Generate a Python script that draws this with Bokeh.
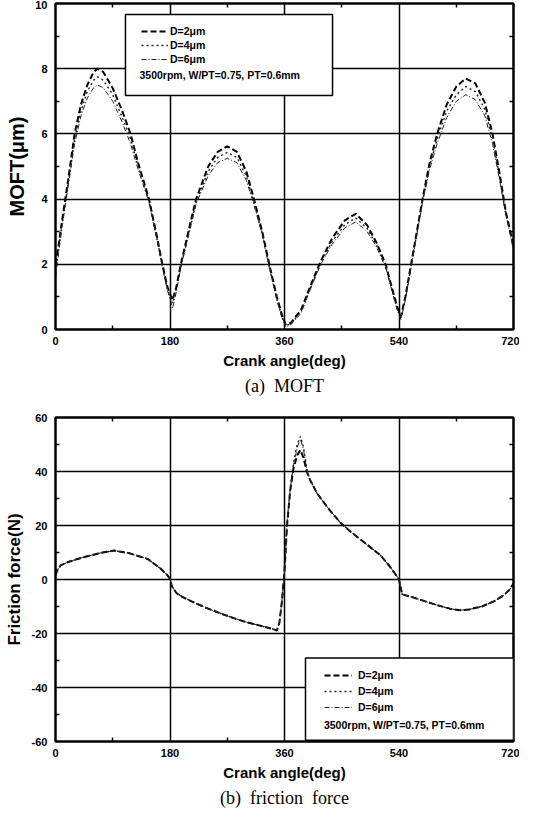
from bokeh.plotting import figure
from bokeh.models import (Range1d, FixedTicker, LinearAxis, Legend, LegendItem,
                          Label, Title, BoxAnnotation)
from bokeh.layouts import column
from bokeh.embed import file_html
from bokeh.resources import INLINE

# ---------------- data ----------------
moft_angle = [0, 5, 10, 20, 30, 40, 50, 60, 66, 75, 90, 105, 118, 130, 147, 160, 168, 176,
              184, 190, 197, 210, 221, 240, 255, 270, 285, 300, 312, 325, 336, 348, 356,
              362, 370, 386, 400, 417, 435, 455, 472, 490, 505, 519, 530, 537, 543, 550,
              559, 568, 577, 588, 600, 615, 630, 645, 660, 675, 687, 698, 708, 715, 720]
moft_d2 = [2.0, 2.6, 3.3, 4.6, 6.0, 6.9, 7.5, 7.9, 8.0, 7.9, 7.4, 6.7, 6.0, 5.1, 4.0, 2.8, 2.0, 1.3,
           0.9, 1.3, 2.0, 3.1, 4.0, 5.0, 5.45, 5.62, 5.45, 4.85, 4.0, 3.0, 2.0, 1.0, 0.45,
           0.15, 0.2, 0.6, 1.3, 2.1, 2.8, 3.35, 3.55, 3.2, 2.65, 2.0, 1.2, 0.7, 0.4, 1.0,
           2.0, 3.0, 4.0, 5.1, 6.0, 6.9, 7.45, 7.7, 7.55, 6.95, 6.0, 4.8, 3.6, 3.0, 2.6]
moft_d4 = [1.8, 2.5, 3.2, 4.5, 5.85, 6.7, 7.3, 7.65, 7.75, 7.65, 7.2, 6.5, 5.85, 5.0, 3.95, 2.75, 1.95, 1.25,
           0.8, 1.25, 1.95, 3.0, 3.9, 4.85, 5.28, 5.43, 5.28, 4.7, 3.9, 2.95, 1.95, 0.95, 0.4,
           0.12, 0.18, 0.55, 1.25, 2.05, 2.7, 3.22, 3.42, 3.1, 2.58, 1.95, 1.15, 0.65, 0.35, 0.95,
           1.95, 2.95, 3.95, 5.0, 5.85, 6.7, 7.2, 7.45, 7.3, 6.75, 5.85, 4.7, 3.55, 2.95, 2.5]
moft_d6 = [1.6, 2.35, 3.1, 4.4, 5.7, 6.55, 7.1, 7.42, 7.5, 7.42, 7.0, 6.35, 5.7, 4.9, 3.9, 2.7, 1.9, 1.2,
           0.65, 1.15, 1.9, 2.95, 3.85, 4.72, 5.12, 5.25, 5.12, 4.58, 3.82, 2.9, 1.9, 0.9, 0.35,
           0.08, 0.15, 0.5, 1.2, 2.0, 2.62, 3.12, 3.3, 3.0, 2.52, 1.9, 1.1, 0.6, 0.3, 0.9,
           1.9, 2.9, 3.9, 4.9, 5.7, 6.5, 7.0, 7.2, 7.05, 6.55, 5.7, 4.6, 3.5, 2.9, 2.4]

fric_angle = [0, 3, 8, 20, 45, 70, 92, 115, 145, 166, 175, 180, 183, 190, 200, 220, 240, 260,
              280, 300, 320, 340, 348, 352, 356, 360, 364, 369, 374, 380, 385, 390, 395, 400,
              411, 430, 448, 465, 485, 500, 511, 525, 532, 538, 540, 545, 560, 580, 600, 620,
              635, 650, 670, 690, 705, 715, 720]
fric_d2 = [1.5, 3.5, 5.2, 6.5, 8.3, 9.8, 10.7, 9.8, 7.6, 3.9, 1.8, 0.3, -2.5, -5.0, -6.5, -8.8, -10.8, -12.6,
           -14.3, -15.8, -17.0, -18.2, -18.9, -16.0, -8.0, 3.0, 20.0, 33.0, 41.0, 46.0, 48.0, 45.0, 40.0, 37.0,
           32.0, 26.0, 21.0, 17.5, 13.8, 11.0, 8.9, 5.0, 2.7, 0.8, 0.0, -5.5, -6.5, -8.0, -9.5, -10.8,
           -11.4, -11.1, -10.0, -8.0, -5.8, -3.5, -1.5]
fric_d4 = [1.5, 3.5, 5.2, 6.5, 8.3, 9.8, 10.7, 9.8, 7.6, 3.9, 1.8, 0.3, -2.5, -5.0, -6.5, -8.8, -10.8, -12.6,
           -14.3, -15.8, -17.0, -18.2, -18.9, -16.0, -8.0, 3.0, 21.0, 34.0, 43.0, 50.0, 53.0, 49.0, 41.0, 37.0,
           32.0, 26.0, 21.0, 17.5, 13.8, 11.0, 8.9, 5.0, 2.7, 0.8, 0.0, -5.5, -6.5, -8.0, -9.5, -10.8,
           -11.4, -11.1, -10.0, -8.0, -5.8, -3.5, -1.5]
fric_d6 = [1.5, 3.5, 5.2, 6.5, 8.3, 9.8, 10.7, 9.8, 7.6, 3.9, 1.8, 0.3, -2.5, -5.0, -6.5, -8.8, -10.8, -12.6,
           -14.3, -15.8, -17.0, -18.2, -18.9, -16.0, -8.0, 3.0, 20.5, 33.5, 42.0, 49.0, 52.0, 48.0, 40.5, 37.0,
           32.0, 26.0, 21.0, 17.5, 13.8, 11.0, 8.9, 5.0, 2.7, 0.8, 0.0, -5.5, -6.5, -8.0, -9.5, -10.8,
           -11.4, -11.1, -10.0, -8.0, -5.8, -3.5, -1.5]

x_ticks = [0, 180, 360, 540, 720]
x_minor = [90, 270, 450, 630]
moft_ticks = [0, 2, 4, 6, 8, 10]
moft_minor = [1, 3, 5, 7, 9]
fric_ticks = [-60, -40, -20, 0, 20, 40, 60]
fric_minor = [-50, -30, -10, 10, 30, 50]

series_labels = ["D=2\u03bcm", "D=4\u03bcm", "D=6\u03bcm"]
cond_text = "3500rpm, W/PT=0.75, PT=0.6mm"

SANS = "Liberation Sans"
SERIF = "Liberation Serif"
STYLES = [dict(line_dash="6 3", line_width=2.0, line_color="black"),
          dict(line_dash="2 3", line_width=1.4, line_color="#222222"),
          dict(line_dash="5 2 1 2", line_width=1.0, line_color="#222222")]


def make_plot(height, border_top, y_lo, y_hi, yt, ym, ylabel, ylabel_size, ylabel_standoff,
              caption):
    p = figure(width=519, height=height, output_backend="svg", toolbar_location=None,
               x_range=Range1d(0, 720), y_range=Range1d(y_lo, y_hi),
               min_border_left=55, min_border_right=6, min_border_top=border_top,
               min_border_bottom=71)
    p.outline_line_color = "black"
    p.outline_line_width = 2
    p.outline_line_alpha = 1
    xt = FixedTicker(ticks=x_ticks, minor_ticks=x_minor)
    ytk = FixedTicker(ticks=yt, minor_ticks=ym)
    p.xaxis.ticker = xt
    p.yaxis.ticker = ytk
    p.xgrid.ticker = xt
    p.ygrid.ticker = ytk
    for g in (p.xgrid, p.ygrid):
        g.grid_line_color = "black"
        g.grid_line_width = 1.5
        g.grid_line_alpha = 1
    for ax in (p.xaxis[0], p.yaxis[0]):
        ax.axis_line_color = "black"
        ax.axis_line_width = 2
        ax.major_tick_in = 0
        ax.major_tick_out = 0
        ax.minor_tick_in = 4
        ax.minor_tick_out = 0
        ax.minor_tick_line_width = 1.5
        ax.major_label_text_font = SANS
        ax.major_label_text_font_style = "bold"
        ax.major_label_text_font_size = "11px"
        ax.major_label_text_color = "black"
        ax.axis_label_text_font = SANS
        ax.axis_label_text_font_style = "bold"
        ax.axis_label_text_color = "black"
    p.yaxis[0].major_label_overrides = {t: str(t) for t in yt}
    p.xaxis[0].major_label_standoff = 7
    p.yaxis[0].major_label_standoff = 8
    p.xaxis[0].axis_label = "Crank angle(deg)"
    p.xaxis[0].axis_label_text_font_size = "15px"
    p.xaxis[0].axis_label_standoff = 4
    p.yaxis[0].axis_label = ylabel
    p.yaxis[0].axis_label_text_font_size = ylabel_size
    p.yaxis[0].axis_label_standoff = ylabel_standoff
    # mirrored minor ticks on top and right
    for loc, ticks in (("above", x_minor), ("right", ym)):
        ax = LinearAxis(ticker=FixedTicker(ticks=[], minor_ticks=ticks),
                        major_label_text_font_size="0px", major_label_standoff=0,
                        axis_line_color="black", axis_line_width=2,
                        minor_tick_in=4, minor_tick_out=0, minor_tick_line_width=1.5,
                        major_tick_in=0, major_tick_out=0)
        p.add_layout(ax, loc)
    cap = Title(text=caption, align="center", text_font=SERIF, text_font_size="18px",
                text_font_style="normal", text_color="black", standoff=4)
    p.add_layout(cap, "below")
    return p


def add_lines_and_legend(p, xs, ys_list, box, loc, row_h, glyph_w, standoff,
                         text_x, text_y):
    items = []
    for ys, lab, st in zip(ys_list, series_labels, STYLES):
        r = p.line(xs, ys, **st)
        items.append(LegendItem(label=lab, renderers=[r]))
    left, right, top, bottom = box
    p.add_layout(BoxAnnotation(left=left, right=right, top=top, bottom=bottom,
                               fill_color="white", fill_alpha=1,
                               line_color="black", line_width=1.5, line_alpha=1))
    leg = Legend(items=items, location=loc, padding=0, spacing=0, margin=0,
                 label_height=row_h, glyph_height=row_h, glyph_width=glyph_w,
                 label_standoff=standoff,
                 label_text_font=SANS, label_text_font_size="10.5px",
                 label_text_font_style="bold", label_text_color="black",
                 border_line_color=None, background_fill_alpha=0)
    p.add_layout(leg, "center")
    p.add_layout(Label(x=text_x, y=text_y, text=cond_text, text_font=SANS,
                       text_font_size="10.5px", text_font_style="bold",
                       text_baseline="middle", text_align="left",
                       text_color="black", level="overlay"))


p1 = make_plot(400, 3, 0, 10, moft_ticks, moft_minor, "MOFT(\u03bcm)", "20px", 4,
               "(a)\u2002MOFT")
add_lines_and_legend(p1, moft_angle, [moft_d2, moft_d4, moft_d6],
                     (110, 435.5, 9.66, 7.18), (86, 263), 14, 27, 2, 132, 7.82)

p2 = make_plot(412, 17, -60, 60, fric_ticks, fric_minor, "Friction force(N)", "17px", 5,
               "(b)\u2002friction\u2002force")
add_lines_and_legend(p2, fric_angle, [fric_d2, fric_d4, fric_d6],
                     (393, 720, -29.1, -59.5), (269, 26), 16, 28, 6, 422, -54)

layout = column(p1, p2, spacing=0)
open("out.html", "w").write(file_html(layout, INLINE))
